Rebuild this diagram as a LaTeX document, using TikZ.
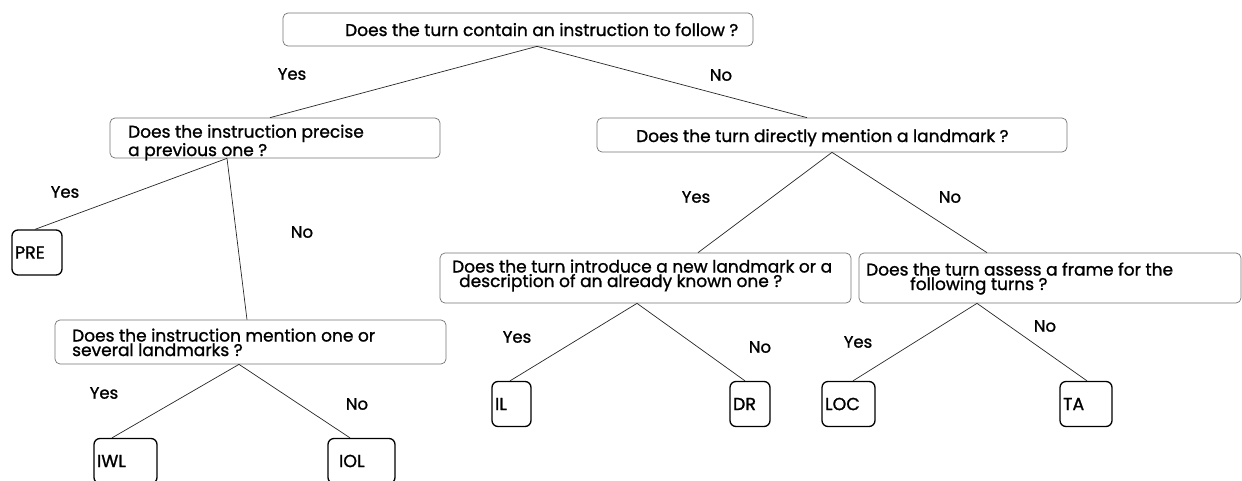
\documentclass[tikz,border=0pt]{standalone}
\usepackage{fontspec}
\setmainfont{Poppins}[FakeBold=1.2]
\usetikzlibrary{positioning}

\begin{document}
\begin{tikzpicture}[x=1pt,y=-1pt,
  question/.style 2 args={draw=black!55, line width=0.7pt, rounded corners=5pt,
    minimum width=#1, minimum height=#2, inner sep=0pt},
  qtext/.style={anchor=base west, inner sep=0pt, align=left,
    font=\fontsize{17}{14.5}\selectfont},
  leaf/.style 2 args={draw, line width=1.3pt, rounded corners=6pt, inner xsep=2pt,
    minimum width=#1, minimum height=45pt, text width=#2, align=left,
    font=\fontsize{17.5}{15}\selectfont},
  answer/.style={inner sep=0pt, font=\fontsize{16.5}{14}\selectfont},
  branch/.style={line width=0.7pt, draw=black!85}]

\useasboundingbox (0,0) rectangle (1242,480);

% question boxes
\node [question={470}{33}] (q0) at (518,29.5) {};
\node [question={330}{40}] (q1) at (275,138) {};
\node [question={470}{34}] (q2) at (832,135) {};
\node [question={391}{44}] (q3) at (250.5,342) {};
\node [question={411}{50}] (q4) at (645.5,278) {};
\node [question={382}{50}] (q5) at (1050,278) {};

% multi-line texts sit on the baseline of their last line
\node [qtext] (q0txt) at (345,36) {Does the turn contain an instruction to follow ?};
\node [qtext] (q1txt) at (128,156) {Does the instruction precise\\a previous one ?};
\node [qtext] (q2txt) at (636,142) {Does the turn directly mention a landmark ?};
\node [qtext] (q3txt) at (72,356) {Does the instruction mention one or\\several landmarks ?};
\node [qtext] (q4txt) at (452,287) {Does the turn introduce a new landmark or a\\\hspace*{7pt}description of an already known one ?};
\node [qtext] (q5txt) at (866,290) {Does the turn assess a frame for the\\\hspace*{44pt}following turns ?};

% leaves
\node [leaf={50}{44}] (pre) at (37,252.5) {PRE};
\node [leaf={63}{57}] (iwl) at (125.5,461) {IWL};
\node [leaf={67}{61}] (iol) at (361.5,461) {\hspace*{8pt}IOL};
\node [leaf={39}{33}] (il) at (511.5,404) {IL};
\node [leaf={40}{34}] (dr) at (750,404) {DR};
\node [leaf={53}{47}] (loc) at (848.5,404) {LOC};
\node [leaf={52}{46}] (ta) at (1086,404) {TA};

% answers
\node [answer] (y0) at (292,74) {Yes};
\node [answer] (n0) at (721,75) {No};
\node [answer] (y1) at (65,192) {Yes};
\node [answer] (n1) at (302,232) {No};
\node [answer] (y2) at (696,197) {Yes};
\node [answer] (n2) at (950,197) {No};
\node [answer] (y3) at (104,393) {Yes};
\node [answer] (n3) at (357,404) {No};
\node [answer] (y4) at (517,337) {Yes};
\node [answer] (n4) at (760,347) {No};
\node [answer] (y5) at (858,342) {Yes};
\node [answer] (n5) at (1045,326) {No};

\draw [branch] ([xshift=19]q0.south) -- ([xshift=-5]q1.north);
\draw [branch] ([xshift=19]q0.south) -- ([xshift=-25]q2.north);
\draw [branch] ([xshift=-48]q1.south) -- ([xshift=-2]pre.north);
\draw [branch] ([xshift=-48]q1.south) -- ([xshift=-3.5]q3.north);
\draw [branch] ([xshift=-11.5]q3.south) -- ([xshift=-13.5]iwl.north);
\draw [branch] ([xshift=-11.5]q3.south) -- ([xshift=-11.5]iol.north);
\draw [branch] (q2.south) -- ([xshift=52.5]q4.north);
\draw [branch] (q2.south) -- ([xshift=-63]q5.north);
\draw [branch] ([xshift=-8.5]q4.south) -- ([xshift=-1.5]il.north);
\draw [branch] ([xshift=-8.5]q4.south) -- ([xshift=-5]dr.north);
\draw [branch] ([xshift=-73]q5.south) -- ([xshift=4.5]loc.north);
\draw [branch] ([xshift=-73]q5.south) -- ([xshift=1]ta.north);

\end{tikzpicture}
\end{document}
